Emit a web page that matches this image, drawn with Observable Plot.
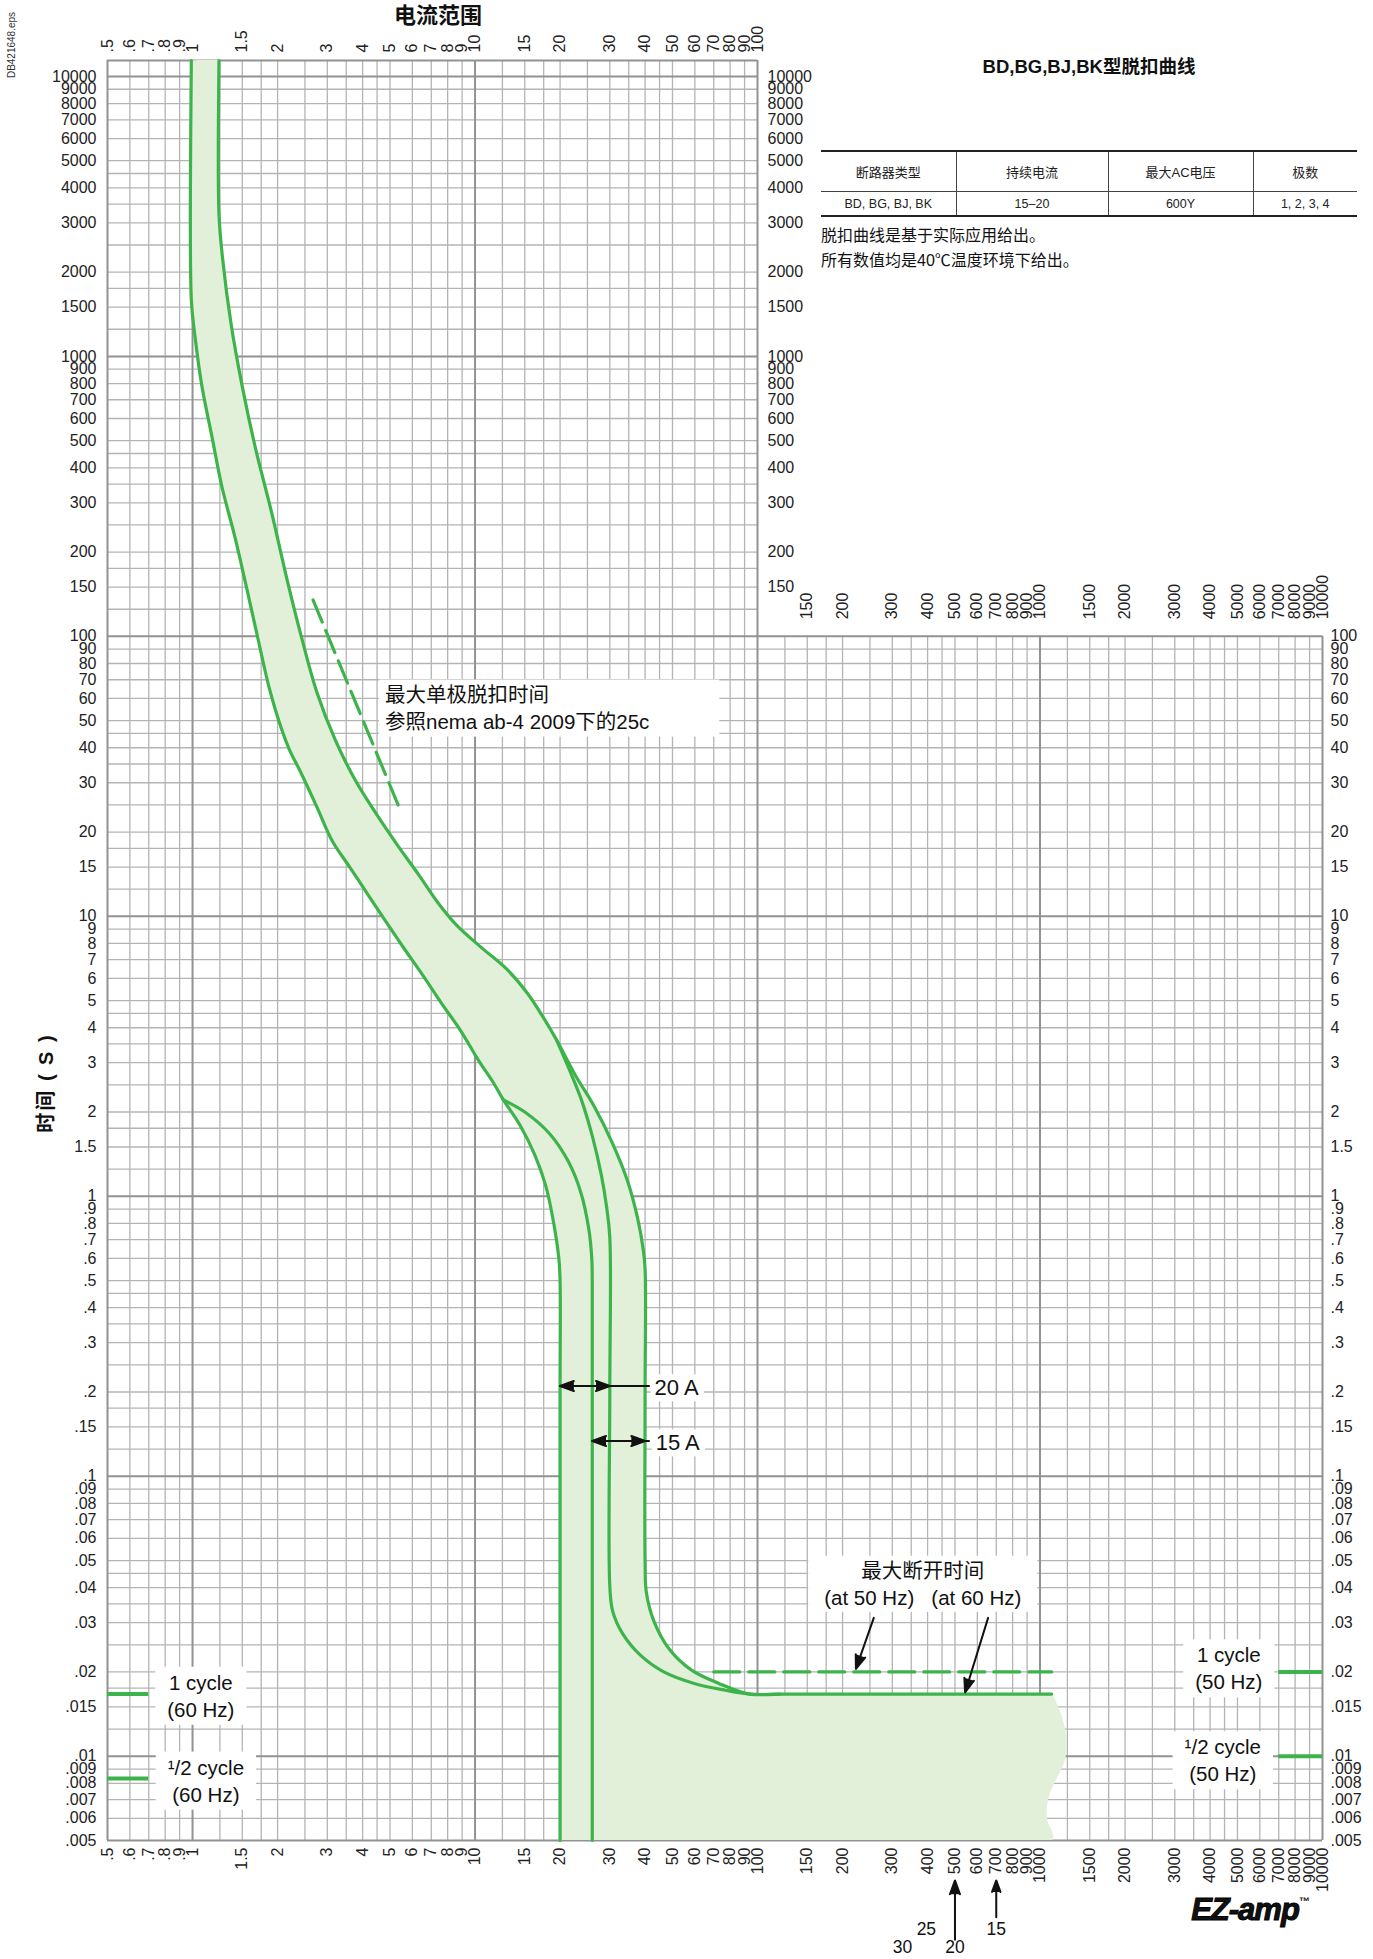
<!DOCTYPE html>
<html>
<head>
<meta charset="utf-8">
<script src="https://cdn.jsdelivr.net/npm/d3@7"></script>
<script src="https://cdn.jsdelivr.net/npm/@observablehq/plot@0.6"></script>
<style>
  html,body{margin:0;padding:0;background:#fff;}
  body{font-family:"Liberation Sans",Arial,"Noto Sans CJK SC",sans-serif;color:#111;}
  #wrap{position:relative;width:1373px;height:1959px;overflow:hidden;background:#fff;}
  #wrap > svg{position:absolute;left:0;top:0;}
  .ov{position:absolute;white-space:nowrap;line-height:1;}
  .c{transform:translate(-50%,-50%);}
  .rot{transform:translate(-50%,-50%) rotate(-90deg);}
  table.spec{position:absolute;left:821px;top:150px;width:536px;border-collapse:collapse;table-layout:fixed;
    border-top:2px solid #222;border-bottom:2px solid #222;color:#222;}
  table.spec td{text-align:center;padding:0;border-left:1px solid #444;border-right:1px solid #444;}
  table.spec td:first-child{border-left:none;}
  table.spec td:last-child{border-right:none;}
  table.spec tr.h td{height:39px;font-size:13px;border-bottom:1px solid #444;}
  table.spec tr.r td{height:23px;font-size:12.5px;}
  .note{position:absolute;left:821px;font-size:16px;color:#111;transform:translateY(-50%);white-space:nowrap;}
</style>
</head>
<body>
<div id="wrap">
  <div class="ov rot" style="left:12px;top:45px;font-size:10px;color:#333;">DB421648.eps</div>
  <div class="ov c" style="left:438px;top:16px;font-size:22px;font-weight:bold;">电流范围</div>
  <div class="ov rot" style="left:46px;top:1083px;font-size:20px;font-weight:bold;letter-spacing:2px;">时间 ( S )</div>
  <div class="ov c" style="left:1089px;top:67px;font-size:18.5px;font-weight:bold;">BD,BG,BJ,BK型脱扣曲线</div>
  <table class="spec">
    <colgroup><col style="width:135px"><col style="width:152px"><col style="width:145px"><col style="width:104px"></colgroup>
    <tr class="h"><td>断路器类型</td><td>持续电流</td><td>最大AC电压</td><td>极数</td></tr>
    <tr class="r"><td>BD, BG, BJ, BK</td><td>15–20</td><td>600Y</td><td>1, 2, 3, 4</td></tr>
  </table>
  <div class="note" style="top:234px;">脱扣曲线是基于实际应用给出。</div>
  <div class="note" style="top:259px;">所有数值均是40℃温度环境下给出。</div>
  <div class="ov c" style="left:1250px;top:1909px;font-size:31px;font-weight:bold;font-style:italic;letter-spacing:-1px;-webkit-text-stroke:1px #000;">EZ-amp<span style="font-size:11px;vertical-align:top;position:relative;top:2px;-webkit-text-stroke:0;">™</span></div>
</div>
<script>
// ---------------- data ----------------
const currentLabels = [".5",".6",".7",".8",".9","1","1.5","2","3","4","5","6","7","8","9","10","15","20","30","40","50","60","70","80","90","100","150","200","300","400","500","600","700","800","900","1000","1500","2000","3000","4000","5000","6000","7000","8000","9000","10000"];
const timeLabels = ["10000","9000","8000","7000","6000","5000","4000","3000","2000","1500","1000","900","800","700","600","500","400","300","200","150","100","90","80","70","60","50","40","30","20","15","10","9","8","7","6","5","4","3","2","1.5","1",".9",".8",".7",".6",".5",".4",".3",".2",".15",".1",".09",".08",".07",".06",".05",".04",".03",".02",".015",".01",".009",".008",".007",".006",".005"];
const gridSteps = [1,1.25,1.5,1.75,2,2.5,3,3.5,4,4.5,5,6,7,8,9];
const gridDecades = [0.001,0.01,0.1,1,10,100,1000,10000];
const xMin = 0.5, xMax = 10000, yMin = 0.005, yTop = 11400, splitY = 100;

// trip band boundaries [current multiple, seconds]
const leftMain = [[0.99,11400],[0.99,11200],[0.99,1600],[1.02,1180],[1.08,780],[1.17,520],[1.27,343],[1.41,228],[1.554,149],[1.721,93.9],[1.867,65.6],[2.02,50],[2.2,39.5],[2.408,32.9],[2.749,24.7],[3.131,18.5],[3.6,15.0],[4.1,12.3],[4.7,10],[5.5,7.9],[6.5,6.2],[7.6,4.9],[8.9,3.9],[10.3,3.05],[11.6,2.55],[12.6,2.21]];
const leftTo20 = [[12.6,2.21],[14.4,1.8],[16.3,1.4],[17.8,1.09],[19,0.8],[19.8,0.6],[20,0.5],[20,0.2],[20,0.0052],[20,0.005]];
const leftTo26 = [[12.6,2.21],[15,2.0],[18.4,1.67],[21.4,1.33],[23.7,1.03],[25.3,0.76],[25.9,0.6],[26,0.5],[26,0.2],[26,0.005]];
const rightMain = [[1.24,11400],[1.24,11200],[1.24,3250],[1.28,2200],[1.37,1300],[1.5,780],[1.67,470],[1.9,280],[2.169,157],[2.433,98.9],[2.749,63.6],[3.203,42.6],[3.77,30.6],[4.436,23.5],[5.275,18.15],[6.34,14.0],[7.38,11.2],[8.6,9.3],[10.54,7.73],[12.93,6.49],[15.37,5.29],[17.55,4.31],[19.43,3.62]];
const rightTo40 = [[19.43,3.62],[22.63,2.71],[26.37,2.1],[30.72,1.54],[34.71,1.13],[37.66,0.832],[39.4,0.644],[40,0.55],[40,0.2],[40,0.0497],[40.4,0.0385],[43,0.0303],[48.6,0.0242],[58.4,0.0203],[73,0.0182],[94,0.016667],[120,0.016667],[300,0.016667],[1090,0.016667],[1100,0.016667]];
const rightTo30 = [[19.43,3.62],[21.5,2.855],[23.8,2.21],[26.1,1.62],[28,1.19],[29.2,0.922],[30,0.713],[30,0.2],[30,0.0405],[30.7,0.033],[33.3,0.0274],[38.4,0.023],[46.2,0.0201],[59.7,0.0182],[77,0.0172],[94,0.016667],[120,0.016667]];
const breakEdge = [[1100,0.016667],[1196,0.0138],[1246,0.0112],[1221,0.0096],[1136,0.0082],[1069,0.00705],[1058,0.006],[1102,0.005]];
const nemaLine = [[2.67,135],[5.46,23.7]];
const maxOpen50 = [[70,0.02],[1100,0.02]];
const cycleRefs = [[0.5,0.7,1/60],[0.5,0.7,1/120],[7000,10000,1/50],[7000,10000,1/100]];

const notes = [
  {x: 4.8, y: 56.2, text: "最大单极脱扣时间\n参照nema ab-4 2009下的25c", anchor: "start"},
  {x: 1.07, y: 0.0166, text: "1 cycle\n(60 Hz)", anchor: "middle"},
  {x: 1.115, y: 0.00826, text: "¹/2 cycle\n(60 Hz)", anchor: "middle"},
  {x: 4660, y: 0.0208, text: "1 cycle\n(50 Hz)", anchor: "middle"},
  {x: 4436, y: 0.00977, text: "¹/2 cycle\n(50 Hz)", anchor: "middle"},
  {x: 384.6, y: 0.0417, text: "最大断开时间\n(at 50 Hz)   (at 60 Hz)", anchor: "middle"}
];
const ampNotes = [
  {x: 43.2, y: 0.21, text: "20 A"},
  {x: 43.6, y: 0.1336, text: "15 A"}
];
const arrows = [
  [41.3,0.21,20,0.21],[20,0.21,30,0.21],
  [41.3,0.1336,26,0.1336],[26,0.1336,40,0.1336],
  [258,0.0312,223,0.0205],[655,0.0312,543,0.0169],
  [500,0.00221,500,0.0036],[700,0.00266,700,0.0036]
];
const ratingLabels = [[396,0.00240,"25"],[700,0.00240,"15"],[326,0.00208,"30"],[500,0.00208,"20"]];

// ---------------- build ----------------
const isDecade = v => Math.abs(Math.log10(v) - Math.round(Math.log10(v))) < 1e-9;
const gridVals = [];
for (const d of gridDecades) for (const s of gridSteps) gridVals.push(+(d * s).toPrecision(6));
const xGrid = gridVals.filter(v => v >= xMin && v <= xMax);
const yGrid = gridVals.filter(v => v >= yMin && v <= yTop);
const vRule = {x: v => v, y1: () => yMin, y2: v => (v <= splitY ? yTop : splitY)};
const hRule = {y: v => v, x1: () => xMin, x2: v => (v > splitY ? splitY : xMax)};

const pt = {x: d => d[0], y: d => d[1]};
const bandOutline = [...leftMain, ...leftTo20.slice(1), ...breakEdge.slice().reverse(), ...[...rightMain, ...rightTo40.slice(1, -1)].reverse(), leftMain[0]];

const green = "#3cb44b";
const curveStyle = {stroke: green, strokeWidth: 3.2, curve: "catmull-rom"};
const labelStyle = {fontSize: 16, fill: "#222"};
const curLabel = d => +d;
const noteStyle = {x: "x", y: "y", text: "text", lineAnchor: "middle", lineHeight: 1.32, fill: "#111", ariaDescription: "boxed"};

const chart = Plot.plot({
  width: 1373, height: 1959,
  marginLeft: 107, marginRight: 51, marginTop: 60, marginBottom: 119,
  x: {type: "log", domain: [xMin, xMax], axis: null},
  y: {type: "log", domain: [yMin, yTop], axis: null},
  style: {fontFamily: "'Liberation Sans', Arial, 'Noto Sans CJK SC', sans-serif", background: "white", overflow: "visible"},
  marks: [
    // grid
    Plot.ruleX(xGrid.filter(v => !isDecade(v) && v !== xMin), {...vRule, stroke: "#b4b4b4", strokeWidth: 1.3}),
    Plot.ruleY(yGrid.filter(v => !isDecade(v) && v !== yMin), {...hRule, stroke: "#b4b4b4", strokeWidth: 1.3}),
    Plot.ruleX(xGrid.filter(v => isDecade(v) || v === xMin), {...vRule, stroke: "#929292", strokeWidth: 2}),
    Plot.ruleY(yGrid.filter(v => isDecade(v) || v === yMin), {...hRule, stroke: "#929292", strokeWidth: 2}),
    Plot.ruleY([yTop], {...hRule, stroke: "#929292", strokeWidth: 2}),
    // band fill
    Plot.line(bandOutline, {...pt, fill: "#e2efd9", stroke: "none", curve: "catmull-rom", clip: "frame"}),
    // reference lines
    Plot.ruleY(cycleRefs, {x1: d => d[0], x2: d => d[1], y: d => d[2], stroke: green, strokeWidth: 4}),
    Plot.line(maxOpen50, {...pt, stroke: green, strokeWidth: 3.2, strokeDasharray: "26,9"}),
    Plot.line(nemaLine, {...pt, stroke: green, strokeWidth: 3.2, strokeDasharray: "24,9"}),
    // curves
    Plot.line([...leftMain, ...leftTo20.slice(1)], {...pt, ...curveStyle}),
    Plot.line(leftTo26, {...pt, ...curveStyle}),
    Plot.line([...rightMain, ...rightTo40.slice(1)], {...pt, ...curveStyle}),
    Plot.line(rightTo30, {...pt, ...curveStyle}),
    // tick labels
    Plot.text(currentLabels.filter(t => +t <= splitY), {x: curLabel, text: d => d, frameAnchor: "top", dy: -8, rotate: -90, textAnchor: "start", lineAnchor: "middle", ...labelStyle}),
    Plot.text(currentLabels.filter(t => +t > splitY), {x: curLabel, y: () => splitY, text: d => d, dy: -17, rotate: -90, textAnchor: "start", lineAnchor: "middle", ...labelStyle}),
    Plot.text(currentLabels, {x: curLabel, text: d => d, frameAnchor: "bottom", dy: 7, rotate: -90, textAnchor: "end", lineAnchor: "middle", ...labelStyle}),
    Plot.text(timeLabels, {y: d => +d, text: d => d, frameAnchor: "left", dx: -11, textAnchor: "end", lineAnchor: "middle", ...labelStyle}),
    Plot.text(timeLabels.filter(t => +t > splitY), {y: d => +d, x: () => splitY, text: d => d, dx: 10, textAnchor: "start", lineAnchor: "middle", ...labelStyle}),
    Plot.text(timeLabels.filter(t => +t <= splitY), {y: d => +d, text: d => d, frameAnchor: "right", dx: 8, textAnchor: "start", lineAnchor: "middle", ...labelStyle}),
    // annotations
    Plot.text(notes.filter(d => d.anchor === "start"), {...noteStyle, textAnchor: "start", fontSize: 20.5}),
    Plot.text(notes.filter(d => d.anchor === "middle"), {...noteStyle, textAnchor: "middle", fontSize: 20.5}),
    Plot.text(ampNotes, {...noteStyle, textAnchor: "start", fontSize: 22}),
    // arrows
    Plot.arrow(arrows, {x1: d => d[0], y1: d => d[1], x2: d => d[2], y2: d => d[3], stroke: "#111", fill: "#111", strokeWidth: 2, headLength: 11, headAngle: 40}),
    Plot.text(ratingLabels, {x: d => d[0], y: d => d[1], text: d => d[2], fontSize: 17.5, fill: "#111"})
  ]
});
document.getElementById("wrap").prepend(chart);

// white boxes behind annotation texts
const pads = {"最大单极脱扣时间": [6, 70, 3, 4], "最大断开时间": [16, 16, 3, 3], "20 A": [4, 5, 1, 1], "15 A": [4, 5, 1, 1]};
chart.querySelectorAll('g[aria-description="boxed"] text').forEach(t => {
  const b = t.getBBox();
  const key = Object.keys(pads).find(k => t.textContent.startsWith(k));
  const [l, r, tp, bt] = key ? pads[key] : [12, 12, 4, 4];
  const rect = document.createElementNS("http://www.w3.org/2000/svg", "rect");
  rect.setAttribute("x", b.x - l);
  rect.setAttribute("y", b.y - tp);
  rect.setAttribute("width", b.width + l + r);
  rect.setAttribute("height", b.height + tp + bt);
  rect.setAttribute("fill", "white");
  if (t.getAttribute("transform")) rect.setAttribute("transform", t.getAttribute("transform"));
  t.parentNode.insertBefore(rect, t);
});
</script>
</body>
</html>
